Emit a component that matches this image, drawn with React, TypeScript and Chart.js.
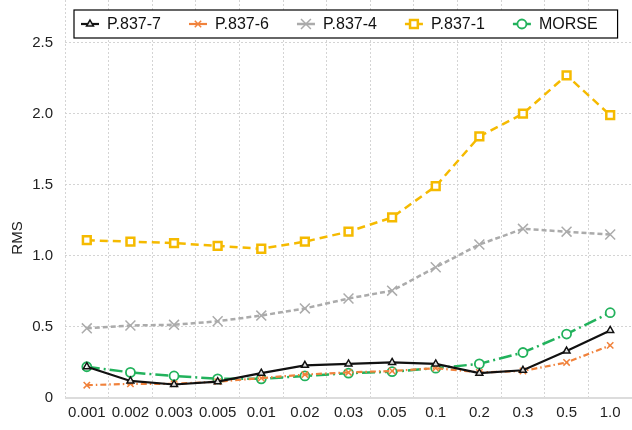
import React, { useEffect, useRef } from 'react';
import { Chart, registerables } from 'chart.js';
import { drawPoint } from 'chart.js/helpers';

Chart.register(...registerables);

const categories = ['0.001', '0.002', '0.003', '0.005', '0.01', '0.02', '0.03', '0.05', '0.1', '0.2', '0.3', '0.5', '1.0'];
const p8377 = [0.22, 0.12, 0.095, 0.115, 0.175, 0.23, 0.24, 0.25, 0.24, 0.175, 0.195, 0.33, 0.475];
const p8376 = [0.09, 0.10, 0.10, 0.115, 0.14, 0.165, 0.18, 0.19, 0.21, 0.18, 0.19, 0.25, 0.37];
const p8374 = [0.49, 0.51, 0.515, 0.54, 0.58, 0.63, 0.70, 0.755, 0.92, 1.08, 1.19, 1.17, 1.15];
const p8371 = [1.11, 1.10, 1.09, 1.07, 1.05, 1.10, 1.17, 1.27, 1.49, 1.84, 2.00, 2.27, 1.99];
const morse = [0.22, 0.18, 0.155, 0.135, 0.135, 0.155, 0.175, 0.185, 0.21, 0.24, 0.32, 0.45, 0.60];
const yTicks = [0, 0.5, 1.0, 1.5, 2.0, 2.5];
const yAxisTitle = 'RMS';

const FONT = '"Liberation Sans", Arial, Helvetica, sans-serif';

const legendPlugin = {
  id: 'boxLegend',
  afterDraw(chart: any) {
    const ctx = chart.ctx as CanvasRenderingContext2D;
    ctx.save();
    ctx.font = `16px ${FONT}`;
    const boxX = 74, boxY = 10, boxH = 28;
    const iconW = 18, gapIconText = 8, gapItem = 28, padL = 7, padR = 20;
    const items = chart.data.datasets.map((ds: any) => ({ ds, w: ctx.measureText(ds.label).width }));
    const total = padL + items.reduce((s: number, it: any) => s + iconW + gapIconText + it.w, 0) + gapItem * (items.length - 1) + padR;
    ctx.fillStyle = '#ffffff';
    ctx.fillRect(boxX, boxY, total, boxH);
    ctx.strokeStyle = '#000000';
    ctx.lineWidth = 1.2;
    ctx.setLineDash([]);
    ctx.strokeRect(boxX, boxY, total, boxH);
    const cy = boxY + boxH / 2;
    let x = boxX + padL;
    items.forEach(({ ds, w }: any) => {
      ctx.save();
      ctx.strokeStyle = ds.borderColor;
      ctx.lineWidth = ds.borderWidth;
      ctx.setLineDash([]);
      ctx.beginPath();
      ctx.moveTo(x, cy);
      ctx.lineTo(x + iconW, cy);
      ctx.stroke();
      ctx.fillStyle = ds.pointBackgroundColor;
      ctx.strokeStyle = ds.borderColor;
      ctx.lineWidth = ds.pointBorderWidth;
      drawPoint(ctx, { pointStyle: ds.pointStyle, radius: ds.pointRadius, borderWidth: ds.pointBorderWidth, rotation: 0 } as any, x + iconW / 2, cy);
      ctx.restore();
      ctx.fillStyle = '#111111';
      ctx.textBaseline = 'middle';
      ctx.textAlign = 'left';
      ctx.fillText(ds.label, x + iconW + gapIconText, cy + 1);
      x += iconW + gapIconText + w + gapItem;
    });
    ctx.restore();
  },
};

const yTitlePlugin = {
  id: 'yTitle',
  afterDraw(chart: any) {
    const ctx = chart.ctx as CanvasRenderingContext2D;
    ctx.save();
    ctx.font = `15px ${FONT}`;
    ctx.fillStyle = '#222222';
    ctx.textAlign = 'center';
    ctx.textBaseline = 'middle';
    ctx.translate(18, 238);
    ctx.rotate(-Math.PI / 2);
    ctx.fillText(yAxisTitle, 0, 0);
    ctx.restore();
  },
};

export default function App() {
  const ref = useRef<HTMLCanvasElement | null>(null);
  useEffect(() => {
    if (!ref.current) return;
    const chart = new Chart(ref.current, {
      type: 'line',
      data: {
        labels: categories,
        datasets: [
          {
            label: 'P.837-7', data: p8377, borderColor: '#111111', borderWidth: 2.2, borderDash: [],
            pointStyle: 'triangle', pointRadius: 4, pointBorderWidth: 1.5, pointBackgroundColor: 'rgba(255,255,255,0.85)', pointBorderColor: '#111111',
          },
          {
            label: 'P.837-6', data: p8376, borderColor: '#F0823C', borderWidth: 2.2, borderDash: [6, 3, 1.5, 3],
            pointStyle: 'crossRot', pointRadius: 4.5, pointBorderWidth: 1.5, pointBackgroundColor: '#F0823C', pointBorderColor: '#F0823C',
          },
          {
            label: 'P.837-4', data: p8374, borderColor: '#ABABAB', borderWidth: 2.5, borderDash: [5, 3],
            pointStyle: 'crossRot', pointRadius: 7, pointBorderWidth: 1.5, pointBackgroundColor: '#ABABAB', pointBorderColor: '#ABABAB',
          },
          {
            label: 'P.837-1', data: p8371, borderColor: '#F5BA00', borderWidth: 2.5, borderDash: [8, 5],
            pointStyle: 'rect', pointRadius: 5.5, pointBorderWidth: 2.5, pointBackgroundColor: '#ffffff', pointBorderColor: '#F5BA00',
          },
          {
            label: 'MORSE', data: morse, borderColor: '#22B25C', borderWidth: 2.5, borderDash: [13, 4, 2, 4],
            pointStyle: 'circle', pointRadius: 4.5, pointBorderWidth: 1.8, pointBackgroundColor: '#ffffff', pointBorderColor: '#22B25C',
          },
        ],
      },
      options: {
        animation: false,
        responsive: false,
        layout: { autoPadding: false, padding: { top: 0, right: -3, bottom: 0, left: 0 } },
        plugins: { legend: { display: false }, tooltip: { enabled: false } },
        elements: { line: { tension: 0 } },
        scales: {
          x: {
            type: 'category',
            offset: true,
            grid: { offset: true, color: '#d4d4d4', lineWidth: 1, drawTicks: false },
            border: { display: false, dash: [2, 2] },
            ticks: { padding: 6, color: '#222222', font: { size: 15, family: FONT }, maxRotation: 0, autoSkip: false },
            afterFit: (s: any) => { s.height = 32; s.paddingLeft = 0; s.paddingRight = 0; },
          },
          y: {
            min: 0,
            max: 2.8,
            grid: {
              drawTicks: false,
              color: (c: any) => (c.tick && c.tick.value === 0 ? '#dcdcdc' : '#d4d4d4'),
              lineWidth: (c: any) => (c.tick && c.tick.value === 0 ? 2 : 1),
            },
            border: { display: false, dash: (c: any) => (c.tick && c.tick.value === 0 ? [] : [2, 2]) },
            ticks: {
              padding: 12,
              color: '#222222',
              font: { size: 15, family: FONT },
              callback: (v: any) => (Number(v) === 0 ? '0' : Number(v).toFixed(1)),
            },
            afterBuildTicks: (s: any) => { s.ticks = yTicks.map((v) => ({ value: v })); },
            afterFit: (s: any) => { s.width = 65; s.paddingTop = 0; s.paddingBottom = 0; },
          },
        },
      } as any,
      plugins: [legendPlugin, yTitlePlugin],
    });
    return () => chart.destroy();
  }, []);
  return (
    <div style={{ position: 'fixed', left: 0, top: 0, width: 632, height: 430, background: '#ffffff' }}>
      <canvas ref={ref} width={632} height={430} style={{ display: 'block' }} />
    </div>
  );
}
